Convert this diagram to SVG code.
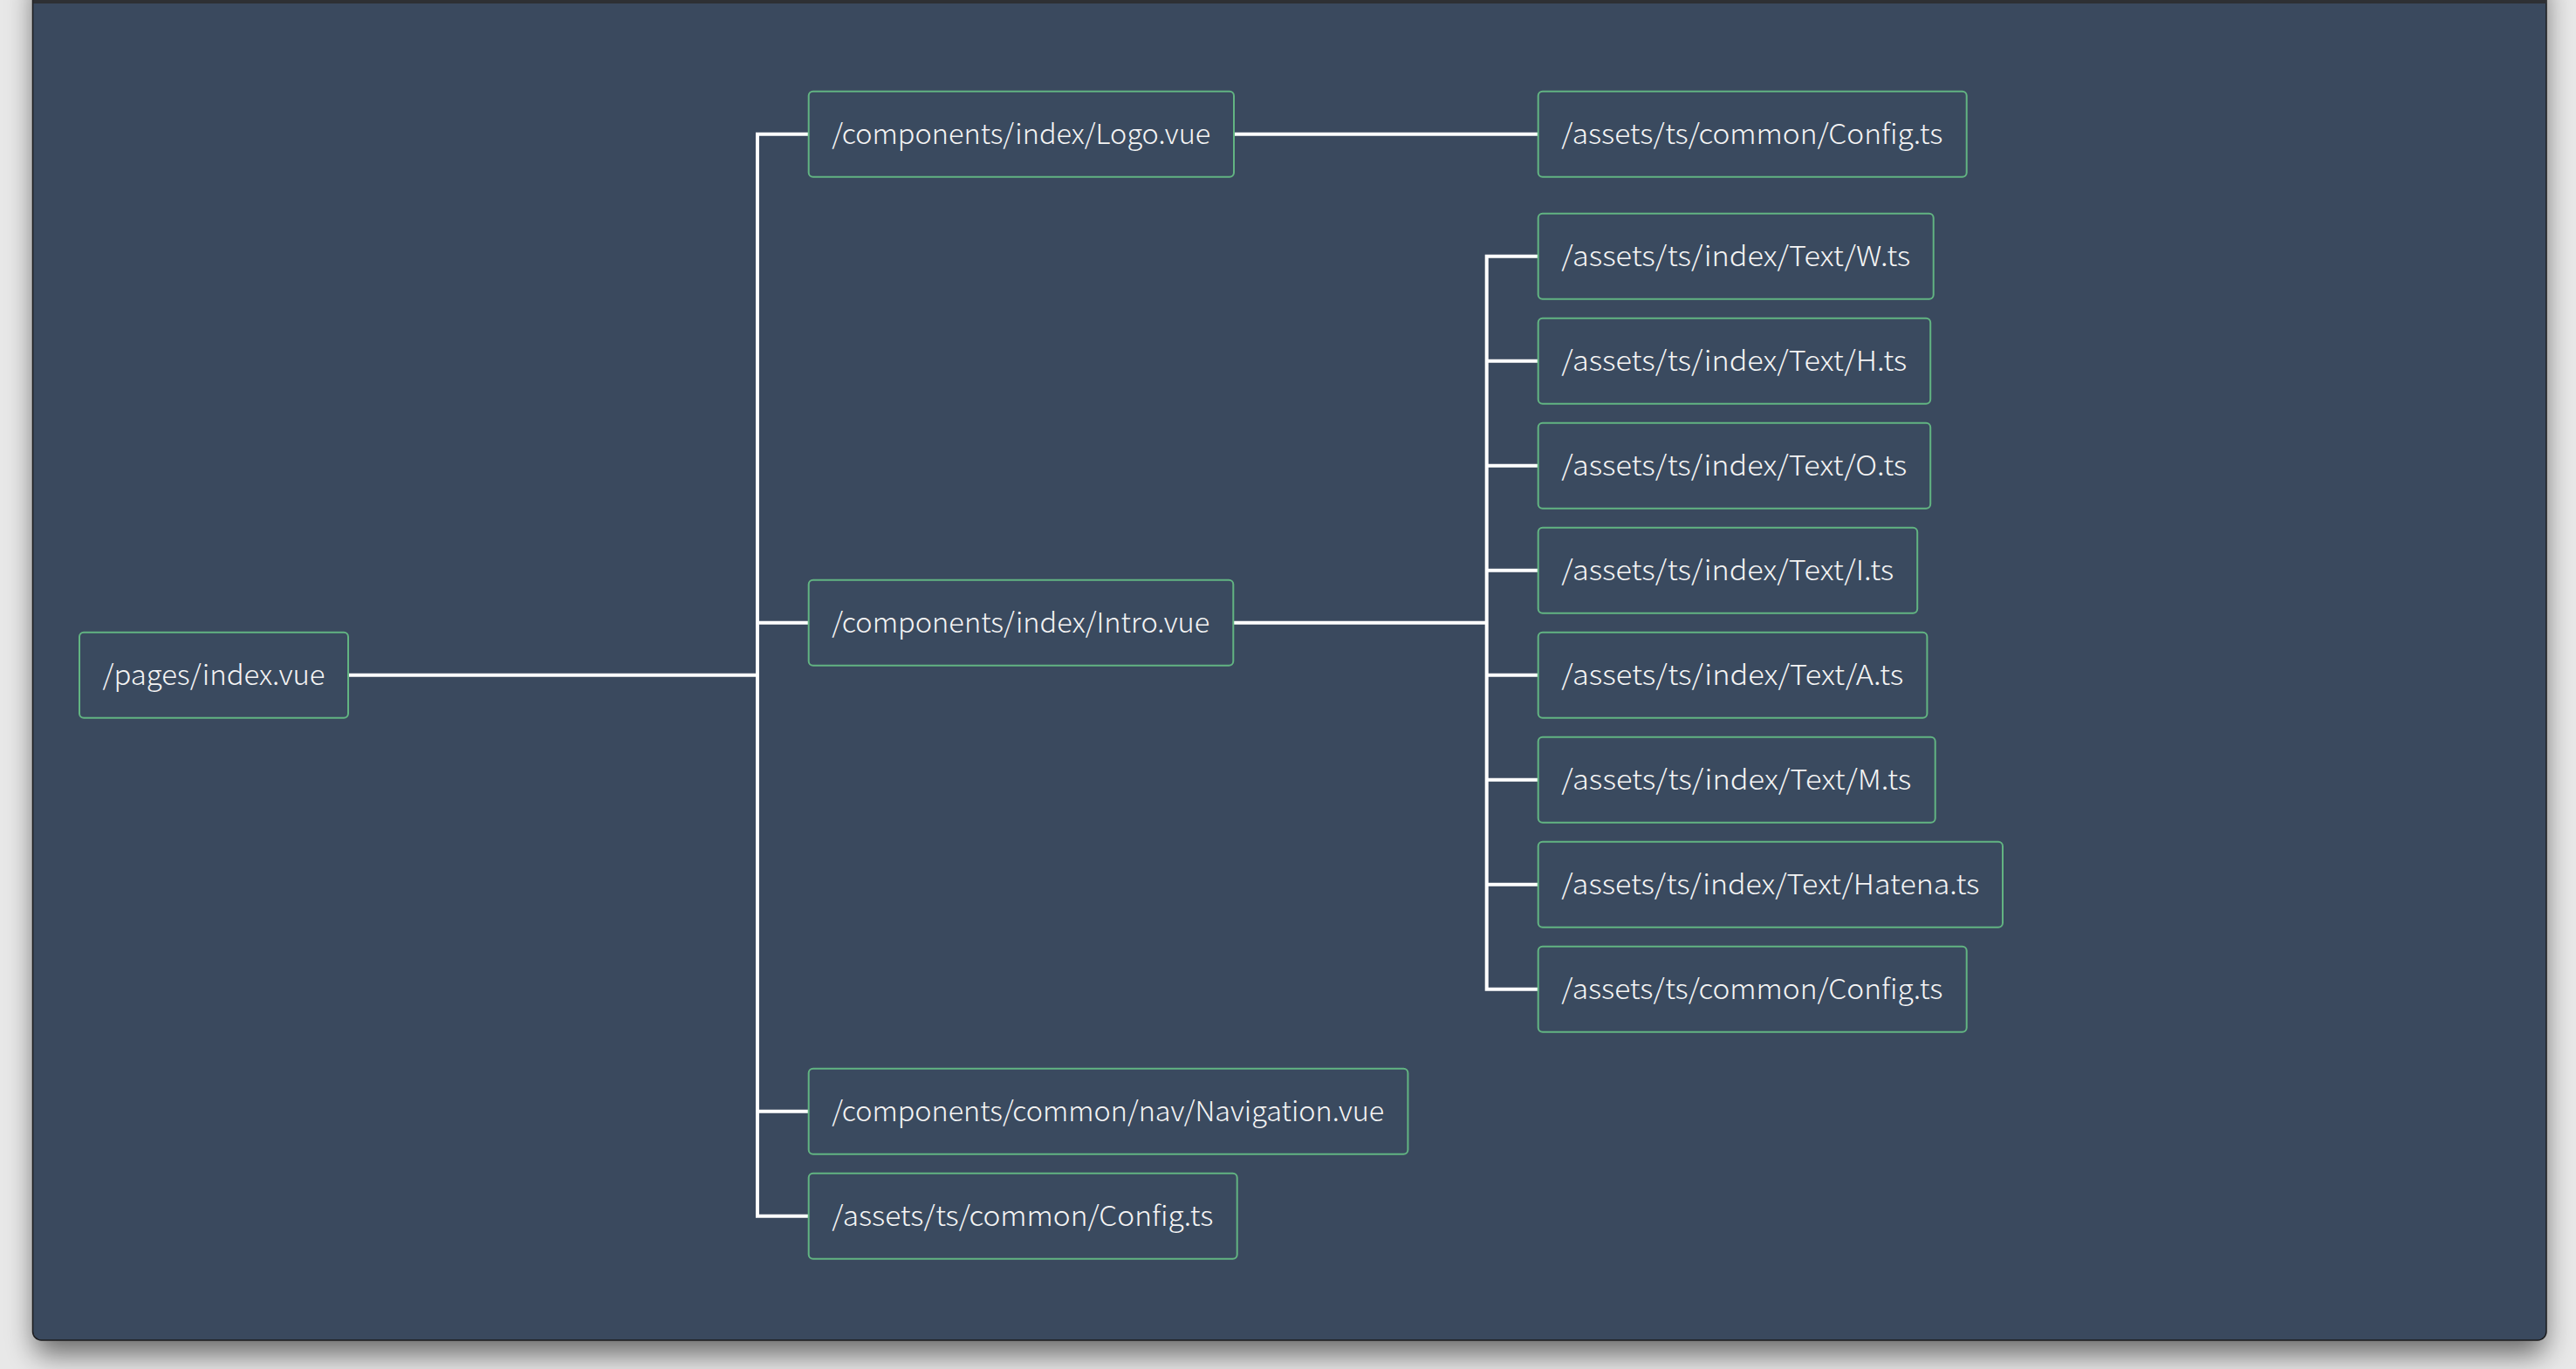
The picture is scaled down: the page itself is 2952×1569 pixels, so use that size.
<svg xmlns="http://www.w3.org/2000/svg" width="2952" height="1569" viewBox="0 0 2952 1569">
<defs>
<filter id="sh" x="-5%" y="-5%" width="110%" height="115%">
<feGaussianBlur stdDeviation="16"/>
</filter>
<style>
.node rect{fill:#3a4a5f;stroke:#62b482;stroke-width:2}
.node text{font-family:"Noto Sans CJK JP","Noto Sans",sans-serif;font-size:32px;font-weight:300;fill:#f4f4f4}
.conn path{fill:none;stroke:#ffffff;stroke-width:4;stroke-linejoin:miter;stroke-linecap:butt}
</style>
</defs>
<rect x="0" y="0" width="2952" height="1569" fill="#e8e8e8"/>
<rect x="40" y="-20" width="2876" height="1572" rx="10" fill="#000" opacity="0.55" filter="url(#sh)"/>
<rect x="37.5" y="-20" width="2880.5" height="1556" rx="10" fill="#3a495e" stroke="#1c1c1e" stroke-width="1.5"/>
<rect x="38" y="0" width="2880" height="4" fill="#2e3034"/>

<g class="conn" id="connectors">
<path d="M399,773.7 H868"/>
<path d="M926.7,153.7 H868 V1393.7 H926.7"/>
<path d="M868,713.7 H926.7"/>
<path d="M868,1273.7 H926.7"/>
<path d="M1414,153.7 H1762.7"/>
<path d="M1413.3,713.7 H1703.7"/>
<path d="M1762.7,293.7 H1703.7 V1133.7 H1762.7"/>
<path d="M1703.7,413.7 H1762.7"/>
<path d="M1703.7,533.7 H1762.7"/>
<path d="M1703.7,653.7 H1762.7"/>
<path d="M1703.7,773.7 H1762.7"/>
<path d="M1703.7,893.7 H1762.7"/>
<path d="M1703.7,1013.7 H1762.7"/>
</g>

<g class="node" id="n-pages-index"><rect x="91" y="724.7" width="308" height="98" rx="5"/><text x="117.5" y="785" textLength="255" lengthAdjust="spacingAndGlyphs">/pages/index.vue</text></g>

<g class="node" id="n-logo"><rect x="926.7" y="104.7" width="487.3" height="98" rx="5"/><text x="953.3" y="165" textLength="434" lengthAdjust="spacingAndGlyphs">/components/index/Logo.vue</text></g>
<g class="node" id="n-intro"><rect x="926.7" y="664.7" width="486.6" height="98" rx="5"/><text x="953.3" y="725" textLength="433" lengthAdjust="spacingAndGlyphs">/components/index/Intro.vue</text></g>
<g class="node" id="n-nav"><rect x="926.7" y="1224.7" width="686.7" height="98" rx="5"/><text x="953.3" y="1285" textLength="633" lengthAdjust="spacingAndGlyphs">/components/common/nav/Navigation.vue</text></g>
<g class="node" id="n-config-a"><rect x="926.7" y="1344.7" width="491" height="98" rx="5"/><text x="953.3" y="1405" textLength="437" lengthAdjust="spacingAndGlyphs">/assets/ts/common/Config.ts</text></g>

<g class="node" id="n-config-b"><rect x="1762.7" y="104.7" width="491" height="98" rx="5"/><text x="1789.3" y="165" textLength="437" lengthAdjust="spacingAndGlyphs">/assets/ts/common/Config.ts</text></g>
<g class="node" id="n-w"><rect x="1762.7" y="244.7" width="453" height="98" rx="5"/><text x="1789.3" y="305" textLength="400" lengthAdjust="spacingAndGlyphs">/assets/ts/index/Text/W.ts</text></g>
<g class="node" id="n-h"><rect x="1762.7" y="364.7" width="449.5" height="98" rx="5"/><text x="1789.3" y="425" textLength="396" lengthAdjust="spacingAndGlyphs">/assets/ts/index/Text/H.ts</text></g>
<g class="node" id="n-o"><rect x="1762.7" y="484.7" width="449.5" height="98" rx="5"/><text x="1789.3" y="545" textLength="396" lengthAdjust="spacingAndGlyphs">/assets/ts/index/Text/O.ts</text></g>
<g class="node" id="n-i"><rect x="1762.7" y="604.7" width="434.5" height="98" rx="5"/><text x="1789.3" y="665" textLength="381" lengthAdjust="spacingAndGlyphs">/assets/ts/index/Text/I.ts</text></g>
<g class="node" id="n-a"><rect x="1762.7" y="724.7" width="445.7" height="98" rx="5"/><text x="1789.3" y="785" textLength="392" lengthAdjust="spacingAndGlyphs">/assets/ts/index/Text/A.ts</text></g>
<g class="node" id="n-m"><rect x="1762.7" y="844.7" width="455" height="98" rx="5"/><text x="1789.3" y="905" textLength="401" lengthAdjust="spacingAndGlyphs">/assets/ts/index/Text/M.ts</text></g>
<g class="node" id="n-hatena"><rect x="1762.7" y="964.7" width="532.3" height="98" rx="5"/><text x="1789.3" y="1025" textLength="479" lengthAdjust="spacingAndGlyphs">/assets/ts/index/Text/Hatena.ts</text></g>
<g class="node" id="n-config-c"><rect x="1762.7" y="1084.7" width="491" height="98" rx="5"/><text x="1789.3" y="1145" textLength="437" lengthAdjust="spacingAndGlyphs">/assets/ts/common/Config.ts</text></g>
</svg>
